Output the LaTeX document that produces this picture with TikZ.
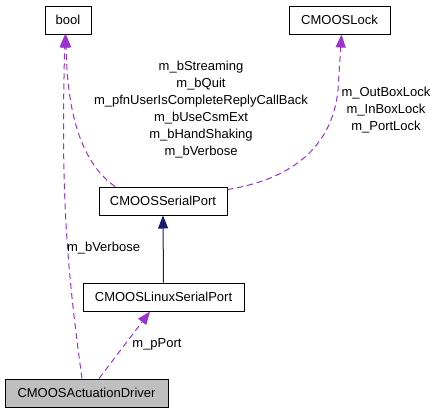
\documentclass[tikz,border=0pt]{standalone}
\usepackage{fontspec}
\setmainfont{Liberation Sans}
\usetikzlibrary{arrows.meta}
\definecolor{edgepurple}{HTML}{9A32CD}
\definecolor{edgenavy}{HTML}{191970}
\definecolor{fillgray}{HTML}{BFBFBF}
\tikzset{
  cls/.style={draw=black, line width=1pt, rectangle, inner sep=0pt, minimum height=28pt, font=\fontsize{13}{17}\selectfont},
  usage/.style={draw=edgepurple, line width=1pt, dashed, dash pattern=on 6pt off 4pt, -{Triangle[length=13pt,width=10pt]}},
  inherit/.style={draw=edgenavy, line width=1pt, -{Triangle[length=13pt,width=10pt]}},
  lbl/.style={align=center, inner sep=0pt, font=\fontsize{13}{17}\selectfont}
}
\begin{document}
\begin{tikzpicture}[x=1pt,y=-1pt]
\useasboundingbox (0,0) rectangle (437,413);
\node[cls, minimum width=46pt] (bool) at (68,20) {bool};
\node[cls, minimum width=101pt] (lock) at (339.5,20) {CMOOSLock};
\node[cls, minimum width=128pt] (serial) at (163,201) {CMOOSSerialPort};
\node[cls, minimum width=161pt] (linux) at (163.5,297) {CMOOSLinuxSerialPort};
\node[cls, minimum width=163pt, fill=fillgray] (driver) at (86.5,393) {CMOOSActuationDriver};

\coordinate (dA) at ([xshift=-4.5pt]driver.north);
\coordinate (dB) at ([xshift=12.5pt]driver.north);
\coordinate (sA) at ([xshift=-48pt]serial.north);
\coordinate (sB) at ([yshift=-3pt]serial.north east);

\draw[usage] (dA) .. controls (66,262) and (61,190) .. ([xshift=-3pt]bool.south);
\draw[usage] (sA) .. controls (80,162) and (67,110) .. ([xshift=-2pt]bool.south);
\draw[usage] (sB) .. controls (300,178) and (333,140) .. (338,90) -- ([xshift=2pt]lock.south);
\draw[inherit] (linux.north) -- (serial.south);
\draw[usage] (dB) -- ([xshift=-13.5pt]linux.south);

\node[lbl] (l1) at (201,110) {m\_bStreaming\\m\_bQuit\\m\_pfnUserIsCompleteReplyCallBack\\m\_bUseCsmExt\\m\_bHandShaking\\m\_bVerbose};
\node[lbl] (l2) at (386,110) {m\_OutBoxLock\\m\_InBoxLock\\m\_PortLock};
\node[lbl] (l3) at (103.5,248) {m\_bVerbose};
\node[lbl] (l4) at (157,344) {m\_pPort};
\end{tikzpicture}
\end{document}
